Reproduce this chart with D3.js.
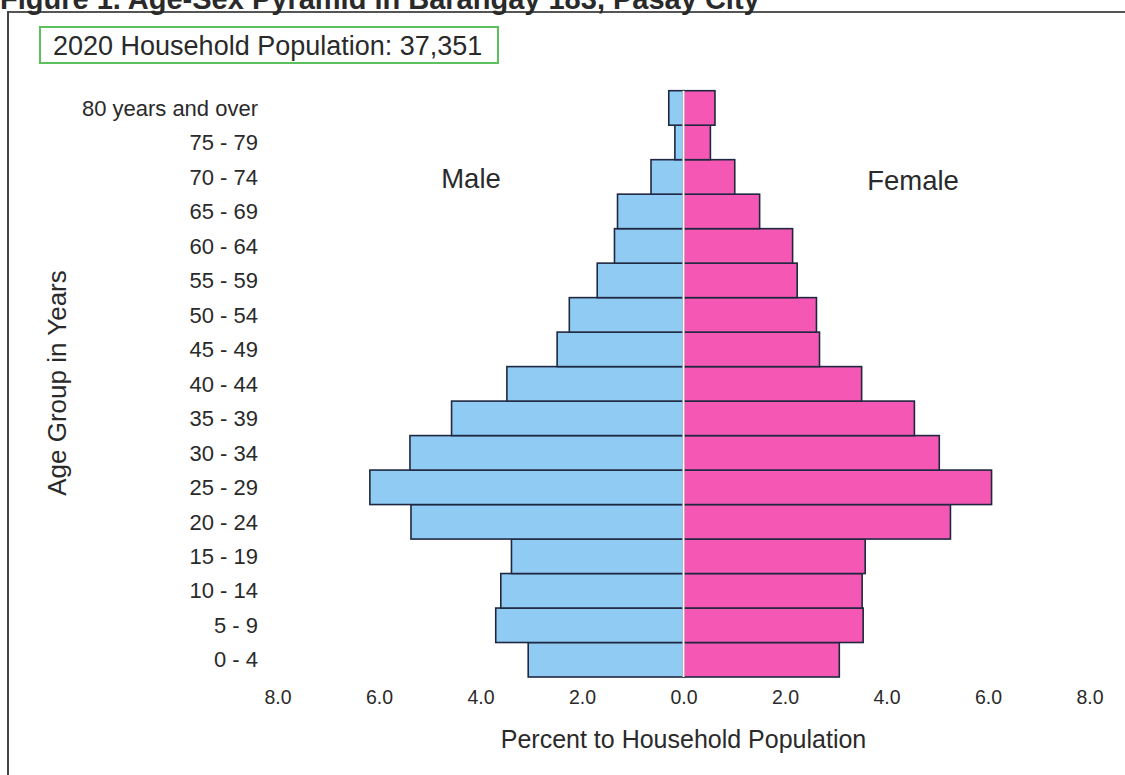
<!DOCTYPE html>
<html>
<head>
<meta charset="utf-8">
<script src="https://cdn.jsdelivr.net/npm/d3@7"></script>
<style>
  html, body { margin: 0; padding: 0; background: #fff; }
  svg { display: block; font-family: "Liberation Sans", Arial, sans-serif; }
</style>
</head>
<body>
<svg id="chart" width="1125" height="775"></svg>
<script>
const ageGroups = ["0 - 4", "5 - 9", "10 - 14", "15 - 19", "20 - 24", "25 - 29", "30 - 34", "35 - 39",
  "40 - 44", "45 - 49", "50 - 54", "55 - 59", "60 - 64", "65 - 69", "70 - 74", "75 - 79", "80 years and over"];
const maleValues = [3.06, 3.70, 3.60, 3.39, 5.37, 6.18, 5.39, 4.57, 3.48, 2.49, 2.25, 1.70, 1.36, 1.30, 0.64, 0.17, 0.29];
const femaleValues = [3.07, 3.54, 3.52, 3.58, 5.26, 6.07, 5.04, 4.55, 3.51, 2.68, 2.62, 2.24, 2.15, 1.50, 1.01, 0.53, 0.62];
const xTicks = [-8, -6, -4, -2, 0, 2, 4, 6, 8];

const svg = d3.select("#chart");
const ink = "#2a2a2a";

// frame
svg.append("line").attr("x1", 8).attr("x2", 1125).attr("y1", 12).attr("y2", 12)
  .attr("stroke", "#555").attr("stroke-width", 2);
svg.append("line").attr("x1", 8).attr("x2", 8).attr("y1", 11).attr("y2", 775)
  .attr("stroke", "#444").attr("stroke-width", 2);

// figure title at top (clipped by the page edge, as in the reference)
svg.append("text").attr("x", 0).attr("y", 9)
  .attr("font-size", 29).attr("font-weight", "bold").attr("fill", ink)
  .text("Figure 1. Age-Sex Pyramid in Barangay 183, Pasay City");

// household population box
svg.append("rect").attr("x", 40).attr("y", 27).attr("width", 458).attr("height", 36)
  .attr("fill", "#fff").attr("stroke", "#5cc05c").attr("stroke-width", 2);
svg.append("text").attr("x", 53).attr("y", 55)
  .attr("font-size", 27).attr("fill", ink)
  .text("2020 Household Population: 37,351");

const x = d3.scaleLinear().domain([-8, 8]).range([277.5, 1089.5]);
const y = d3.scaleBand().domain(ageGroups.slice().reverse()).range([90.7, 677]).padding(0);

const data = ageGroups.map((g, i) => ({ g, m: maleValues[i], f: femaleValues[i] }));

const stroke = "#1f2840";
svg.append("g").selectAll("rect").data(data).join("rect")
  .attr("x", d => x(-d.m)).attr("y", d => y(d.g))
  .attr("width", d => x(0) - x(-d.m)).attr("height", y.bandwidth())
  .attr("fill", "#90cbf4").attr("stroke", stroke).attr("stroke-width", 1.6);
svg.append("g").selectAll("rect").data(data).join("rect")
  .attr("x", x(0)).attr("y", d => y(d.g))
  .attr("width", d => x(d.f) - x(0)).attr("height", y.bandwidth())
  .attr("fill", "#f458b4").attr("stroke", stroke).attr("stroke-width", 1.6);

// white center separator
svg.append("line").attr("x1", x(0)).attr("x2", x(0)).attr("y1", y.range()[0]).attr("y2", y.range()[1])
  .attr("stroke", "#fff").attr("stroke-width", 2);

// y labels
svg.append("g").selectAll("text").data(ageGroups).join("text")
  .attr("x", 258).attr("y", d => y(d) + y.bandwidth() / 2)
  .attr("dy", "0.35em").attr("text-anchor", "end")
  .attr("font-size", 22).attr("fill", ink)
  .text(d => d);

// x axis
const xAxis = d3.axisBottom(x).tickValues(xTicks).tickSize(0).tickPadding(13)
  .tickFormat(d => d3.format(".1f")(Math.abs(d)));
const gx = svg.append("g").attr("transform", "translate(0,677)").call(xAxis);
gx.select(".domain").remove();
gx.selectAll("text").attr("font-size", 19.5).attr("fill", ink)
  .attr("font-family", "'Liberation Sans', Arial, sans-serif");

// axis titles
svg.append("text").attr("x", x(0)).attr("y", 748).attr("text-anchor", "middle")
  .attr("font-size", 25).attr("fill", ink).text("Percent to Household Population");
svg.append("text").attr("transform", "translate(66,383) rotate(-90)").attr("text-anchor", "middle")
  .attr("font-size", 26).attr("fill", ink).text("Age Group in Years");

// Male / Female labels
svg.append("text").attr("x", 471).attr("y", 188).attr("text-anchor", "middle")
  .attr("font-size", 27.5).attr("fill", ink).text("Male");
svg.append("text").attr("x", 913).attr("y", 190).attr("text-anchor", "middle")
  .attr("font-size", 27.5).attr("fill", ink).text("Female");
</script>
</body>
</html>
